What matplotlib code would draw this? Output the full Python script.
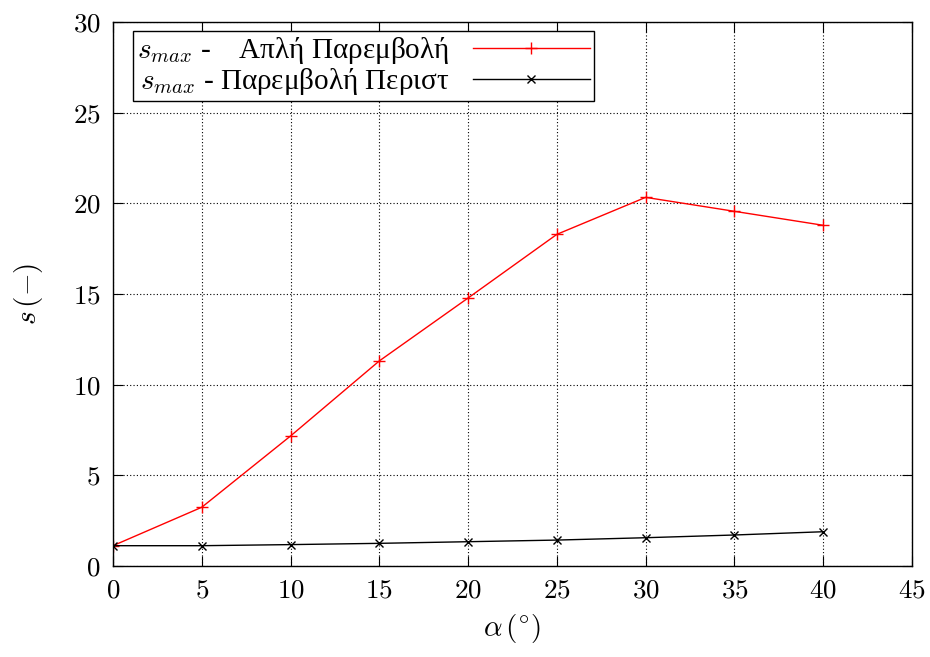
#!/usr/bin/env python3
# -*- coding: utf-8 -*-
"""
s_max vs angle alpha, two interpolation methods (gnuplot-like look)
"""

import matplotlib
matplotlib.use('Agg')
import matplotlib.pyplot as plt
from matplotlib.ticker import FuncFormatter, MultipleLocator

alpha = [0, 5, 10, 15, 20, 25, 30, 35, 40]
s_simple = [1.12, 3.24, 7.17, 11.31, 14.78, 18.29, 20.33, 19.56, 18.79]
s_peri = [1.12, 1.12, 1.18, 1.25, 1.34, 1.43, 1.56, 1.71, 1.89]

label_simple = r'$s_{max}$ -    Απλή Παρεμβολή'
label_peri = r'$s_{max}$ - Παρεμβολή Περιστ'


def main():
    plt.rcParams['mathtext.fontset'] = 'cm'
    plt.rcParams['font.family'] = ['Liberation Serif', 'DejaVu Serif']

    fig = plt.figure(figsize=(9.3, 6.57), dpi=100)
    ax = fig.add_axes([0.1215, 0.1385, 0.8591, 0.828])

    ax.plot(alpha, s_simple, color='red', lw=1.0, marker='+', ms=8, mew=1.0,
            label=label_simple)
    ax.plot(alpha, s_peri, color='black', lw=1.0, marker='x', ms=6, mew=1.0,
            label=label_peri)

    ax.set_xlim(0, 45)
    ax.set_ylim(0, 30)
    ax.xaxis.set_major_locator(MultipleLocator(5))
    ax.yaxis.set_major_locator(MultipleLocator(5))
    fmt = FuncFormatter(lambda v, p: f'${v:g}$')
    ax.xaxis.set_major_formatter(fmt)
    ax.yaxis.set_major_formatter(fmt)
    ax.tick_params(direction='in', top=True, right=True, length=7, width=0.8,
                   labelsize=19.5, pad=9)
    ax.grid(True, color='black', linestyle=(0, (1, 2)), linewidth=0.8)
    for sp in ax.spines.values():
        sp.set_linewidth(1.0)

    ax.set_xlabel(r'$\alpha\,(^{\circ})$', fontsize=21, labelpad=6)
    ax.set_ylabel(r'$s\,(-)$', fontsize=21, labelpad=20)

    leg = ax.legend(loc='upper left', bbox_to_anchor=(0.025, 0.984),
                    markerfirst=False, alignment='right', fontsize=21,
                    frameon=True, fancybox=False, framealpha=1,
                    edgecolor='black', borderpad=0.15, labelspacing=0.0,
                    handlelength=4.0, handletextpad=0.8, borderaxespad=0)
    leg.get_frame().set_linewidth(1.0)

    fig.savefig('out.png', dpi=100)


if __name__ == '__main__':
    main()
